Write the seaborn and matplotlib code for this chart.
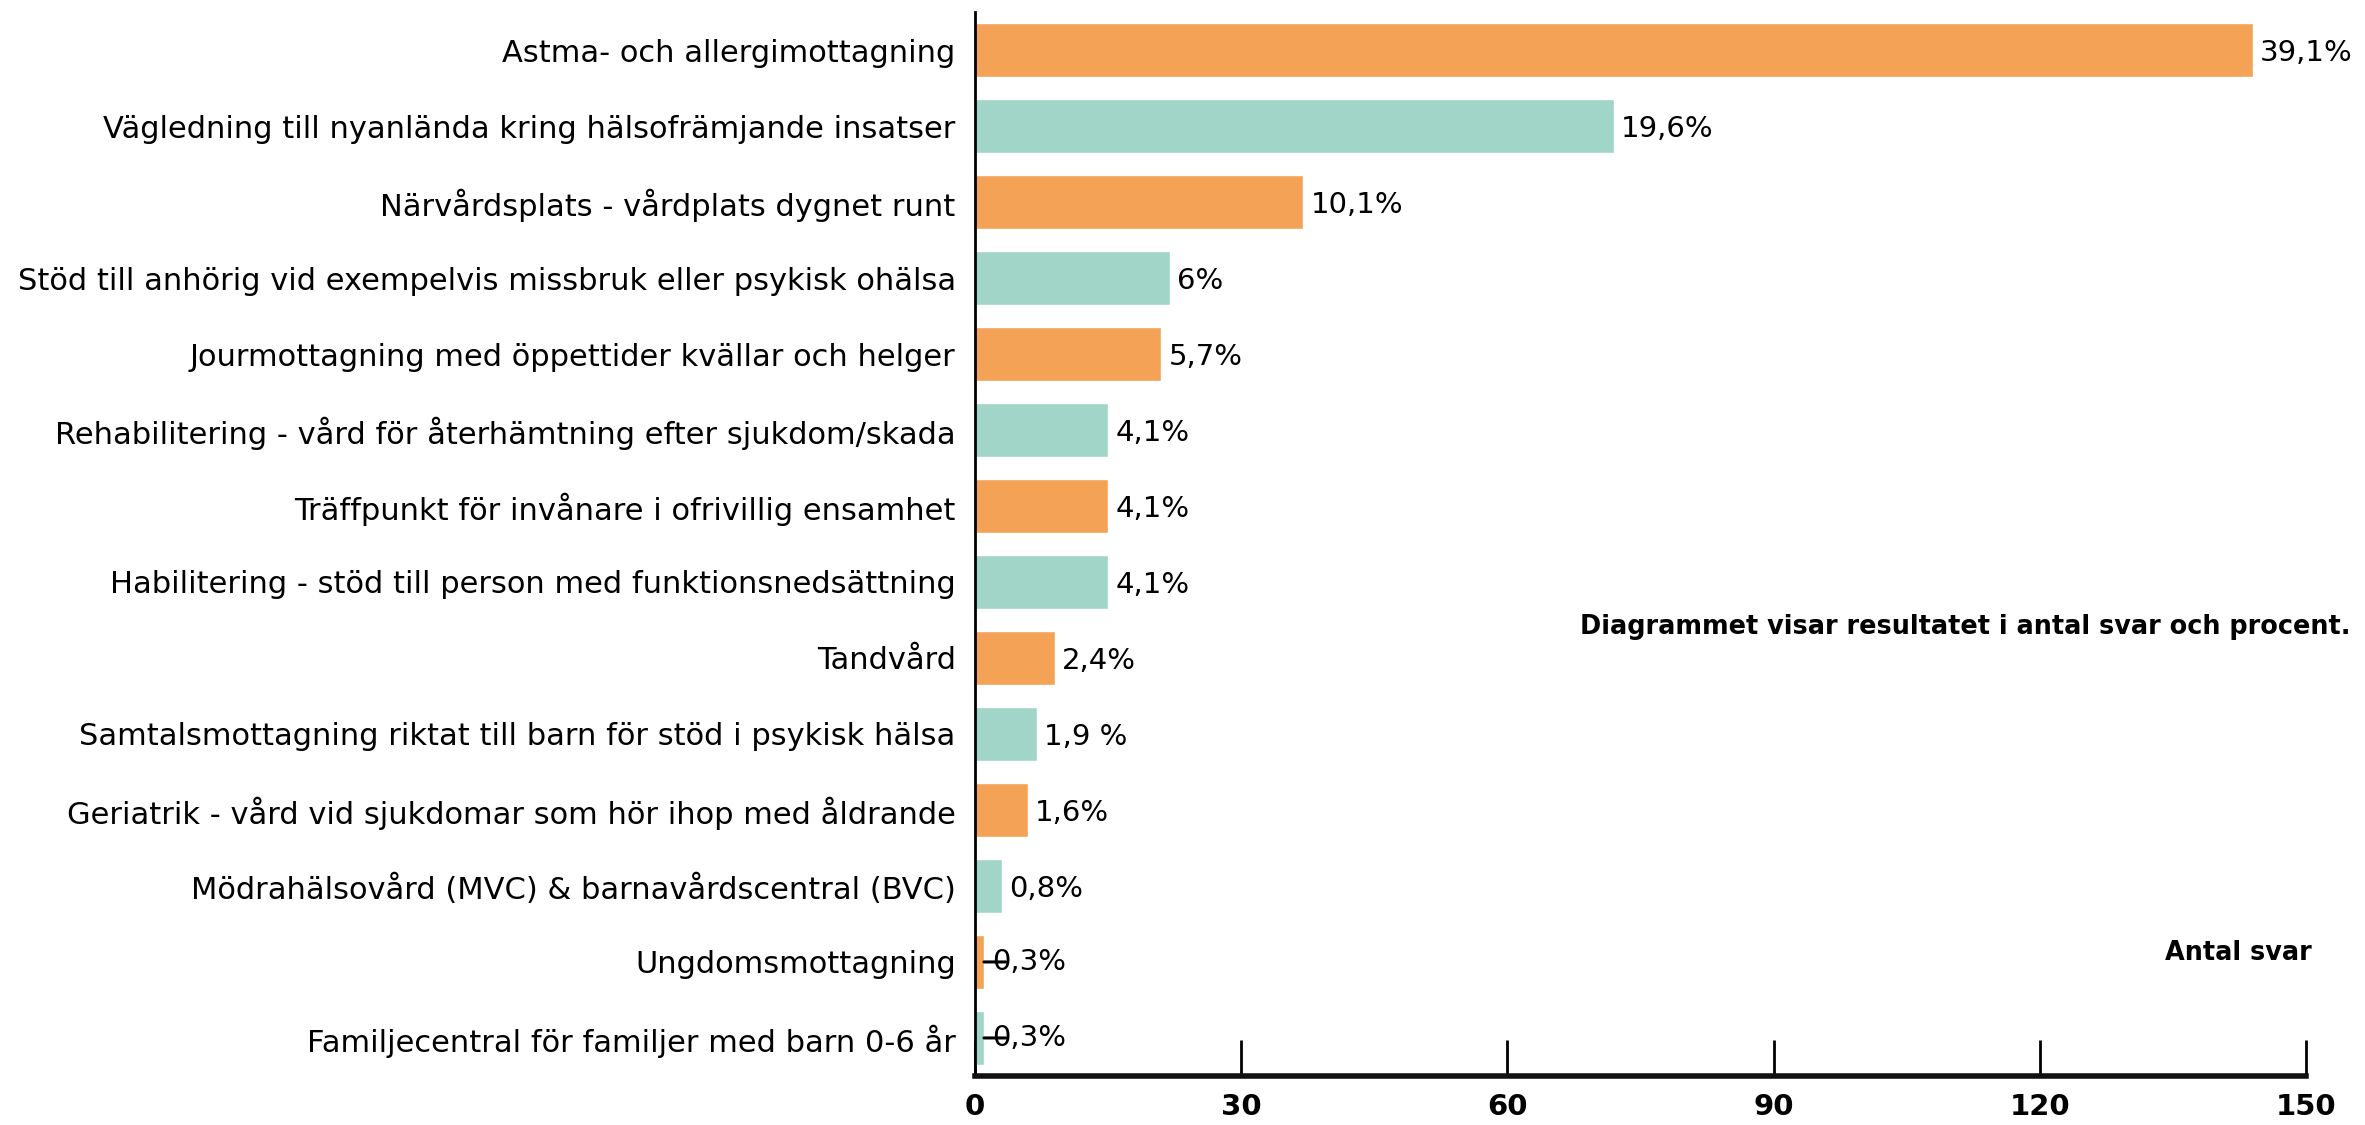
import pandas as pd
import matplotlib.pyplot as plt
import seaborn as sns

# svar per mottagning (antal), läst ur diagrammet
kategorier = [
    'Astma- och allergimottagning',
    'Vägledning till nyanlända kring hälsofrämjande insatser',
    'Närvårdsplats - vårdplats dygnet runt',
    'Stöd till anhörig vid exempelvis missbruk eller psykisk ohälsa',
    'Jourmottagning med öppettider kvällar och helger',
    'Rehabilitering - vård för återhämtning efter sjukdom/skada',
    'Träffpunkt för invånare i ofrivillig ensamhet',
    'Habilitering - stöd till person med funktionsnedsättning',
    'Tandvård',
    'Samtalsmottagning riktat till barn för stöd i psykisk hälsa',
    'Geriatrik - vård vid sjukdomar som hör ihop med åldrande',
    'Mödrahälsovård (MVC) & barnavårdscentral (BVC)',
    'Ungdomsmottagning',
    'Familjecentral för familjer med barn 0-6 år',
]
antal_svar = [144, 72, 37, 22, 21, 15, 15, 15, 9, 7, 6, 3, 1, 1]
procent = ['39,1%', '19,6%', '10,1%', '6%', '5,7%', '4,1%', '4,1%', '4,1%',
           '2,4%', '1,9 %', '1,6%', '0,8%', '0,3%', '0,3%']

orange = '#F4A255'
turkos = '#A0D5C8'
farger = [orange if i % 2 == 0 else turkos for i in range(len(kategorier))]

df = pd.DataFrame({'Mottagning': kategorier, 'Antal': antal_svar})

sns.set_style('white')
plt.rcParams['font.family'] = ['DejaVu Sans']
plt.rcParams['text.color'] = 'black'
plt.rcParams['xtick.color'] = 'black'
plt.rcParams['ytick.color'] = 'black'

fig = plt.figure(figsize=(23.65, 11.25), dpi=100)
ax = fig.add_axes([0.4123, 0.0436, 0.9751 - 0.4123, 0.9893 - 0.0436])

sns.barplot(data=df, x='Antal', y='Mottagning', hue='Mottagning',
            palette=farger, legend=False, width=0.72, saturation=1, ax=ax)

ax.set_xlim(0, 150)
ax.set_ylim(13.5, -0.5)
ax.set_xticks([0, 30, 60, 90, 120, 150])
ax.tick_params(axis='x', bottom=True, direction='in', length=26, width=2,
               pad=12, labelsize=21, color='black', labelcolor='black')
for t in ax.get_xticklabels():
    t.set_fontweight('bold')
ax.tick_params(axis='y', left=False, length=0, pad=14, labelsize=22,
               labelcolor='black')
for t in ax.get_yticklabels():
    t.set_va('center_baseline')
ax.set_xlabel('')
ax.set_ylabel('')

for s in ['top', 'right']:
    ax.spines[s].set_visible(False)
ax.spines['left'].set_linewidth(2)
ax.spines['left'].set_color('black')
ax.spines['bottom'].set_linewidth(4)
ax.spines['bottom'].set_color('#111111')

# procentetiketter; de minsta har en kort hänvisningslinje
for i, (v, p) in enumerate(zip(antal_svar, procent)):
    if v <= 1:
        ax.annotate(p, (v, i), xytext=(6, 0), textcoords='offset points',
                    va='center', ha='left', fontsize=21,
                    arrowprops=dict(arrowstyle='-', color='black', lw=2.2,
                                    patchA=None, relpos=(0.18, 0.5),
                                    shrinkA=0, shrinkB=0))
    else:
        ax.annotate(p, (v, i), xytext=(5, 0), textcoords='offset points',
                    va='center_baseline', ha='left', fontsize=21)

fig.text(2351 / 2365, 1 - 627 / 1125,
         'Diagrammet visar resultatet i antal svar och procent.',
         ha='right', va='center', fontsize=18.4, fontweight='bold')
fig.text(2312 / 2365, 1 - 953 / 1125, 'Antal svar',
         ha='right', va='center', fontsize=18.4, fontweight='bold')

fig.savefig('out.png', dpi=100)
